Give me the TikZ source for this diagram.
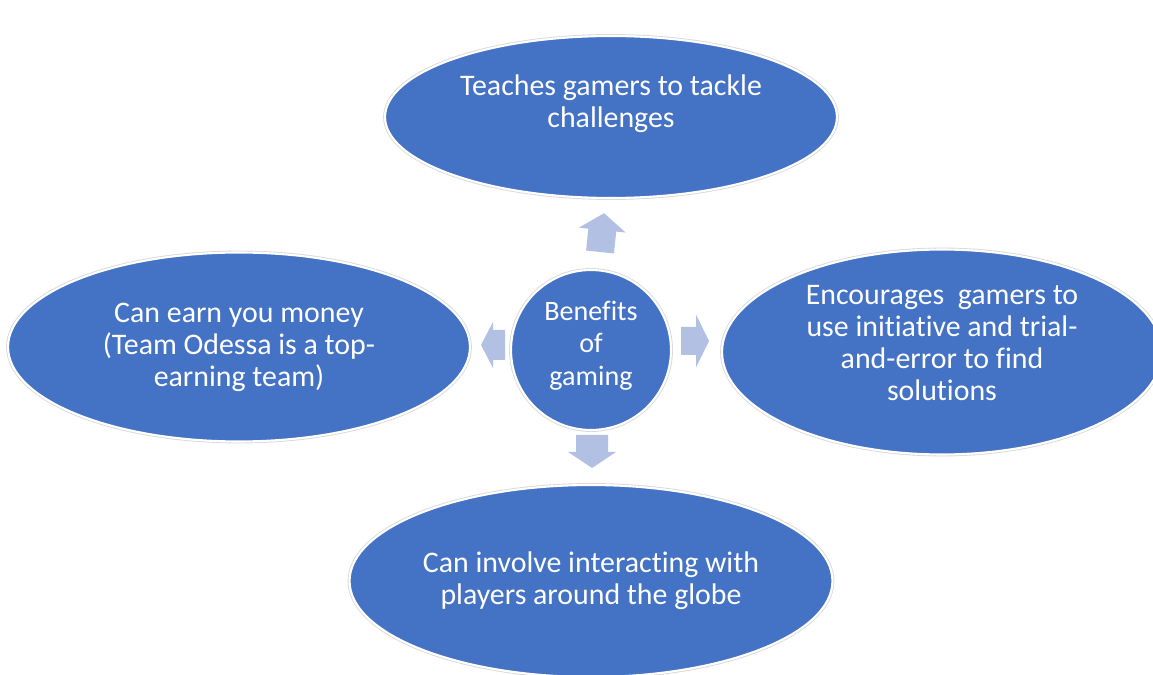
\documentclass[tikz,border=0pt]{standalone}
\usepackage{fontspec}
\setmainfont{Carlito}[Ligatures=NoCommon]
\usetikzlibrary{shapes.geometric}
\definecolor{oval}{RGB}{68,114,196}
\definecolor{pale}{RGB}{178,192,228}
\tikzset{
  bubble/.style={ellipse,fill=oval,draw=white,line width=1.2pt,preaction={draw=black!15,line width=2.2pt},
    inner sep=0pt,align=center,text=white,font=\fontsize{17}{18.2}\selectfont},
  hub/.style={bubble,circle,minimum size=3.2cm,font=\fontsize{16}{18.6}\selectfont},
  pics/blockarrow/.style args={#1/#2/#3/#4}{code={
    \fill[pale](0,-#2/2)--(#1-#4,-#2/2)--(#1-#4,-#3/2)--(#1,0)--(#1-#4,#3/2)--(#1-#4,#2/2)--(0,#2/2)--cycle;}}
}
\begin{document}
\begin{tikzpicture}[x=0.02cm,y=0.02cm]
  \useasboundingbox (0,0) rectangle (1153,-675);
  \clip (0,0) rectangle (1153,-675);
  \node[bubble,minimum width=9.04cm,minimum height=3.24cm](tackle)at(611,-117){Teaches gamers to tackle\\challenges\\[-5.8pt]\strut};
  \node[bubble,minimum width=9.24cm,minimum height=3.78cm](money)at(239,-347){Can earn you money\\(Team Odessa is a top-\\earning team)};
  \node[bubble,minimum width=8.8cm,minimum height=4.1cm](trial)at(942,-352){Encourages\ \ gamers to\\use initiative and trial-\\and-error to find\\solutions\\[-13.5pt]\strut};
  \node[bubble,minimum width=9.66cm,minimum height=3.84cm](globe)at(591,-581){Can involve interacting with\\players around the globe};
  \node[hub](benefits)at(591,-350){Benefits\\of\\gaming\\[-16.5pt]\strut};
  \pic[rotate=84] (uparrow) at (600,-252) {blockarrow=39/28/47/17};
  \pic[rotate=180] (leftarrow) at (505,-345) {blockarrow=24/30/46/12};
  \pic (rightarrow) at (681,-341) {blockarrow=28/28/53/13};
  \pic[rotate=-90] (downarrow) at (592,-435) {blockarrow=33/32/48/16};
\end{tikzpicture}
\end{document}
